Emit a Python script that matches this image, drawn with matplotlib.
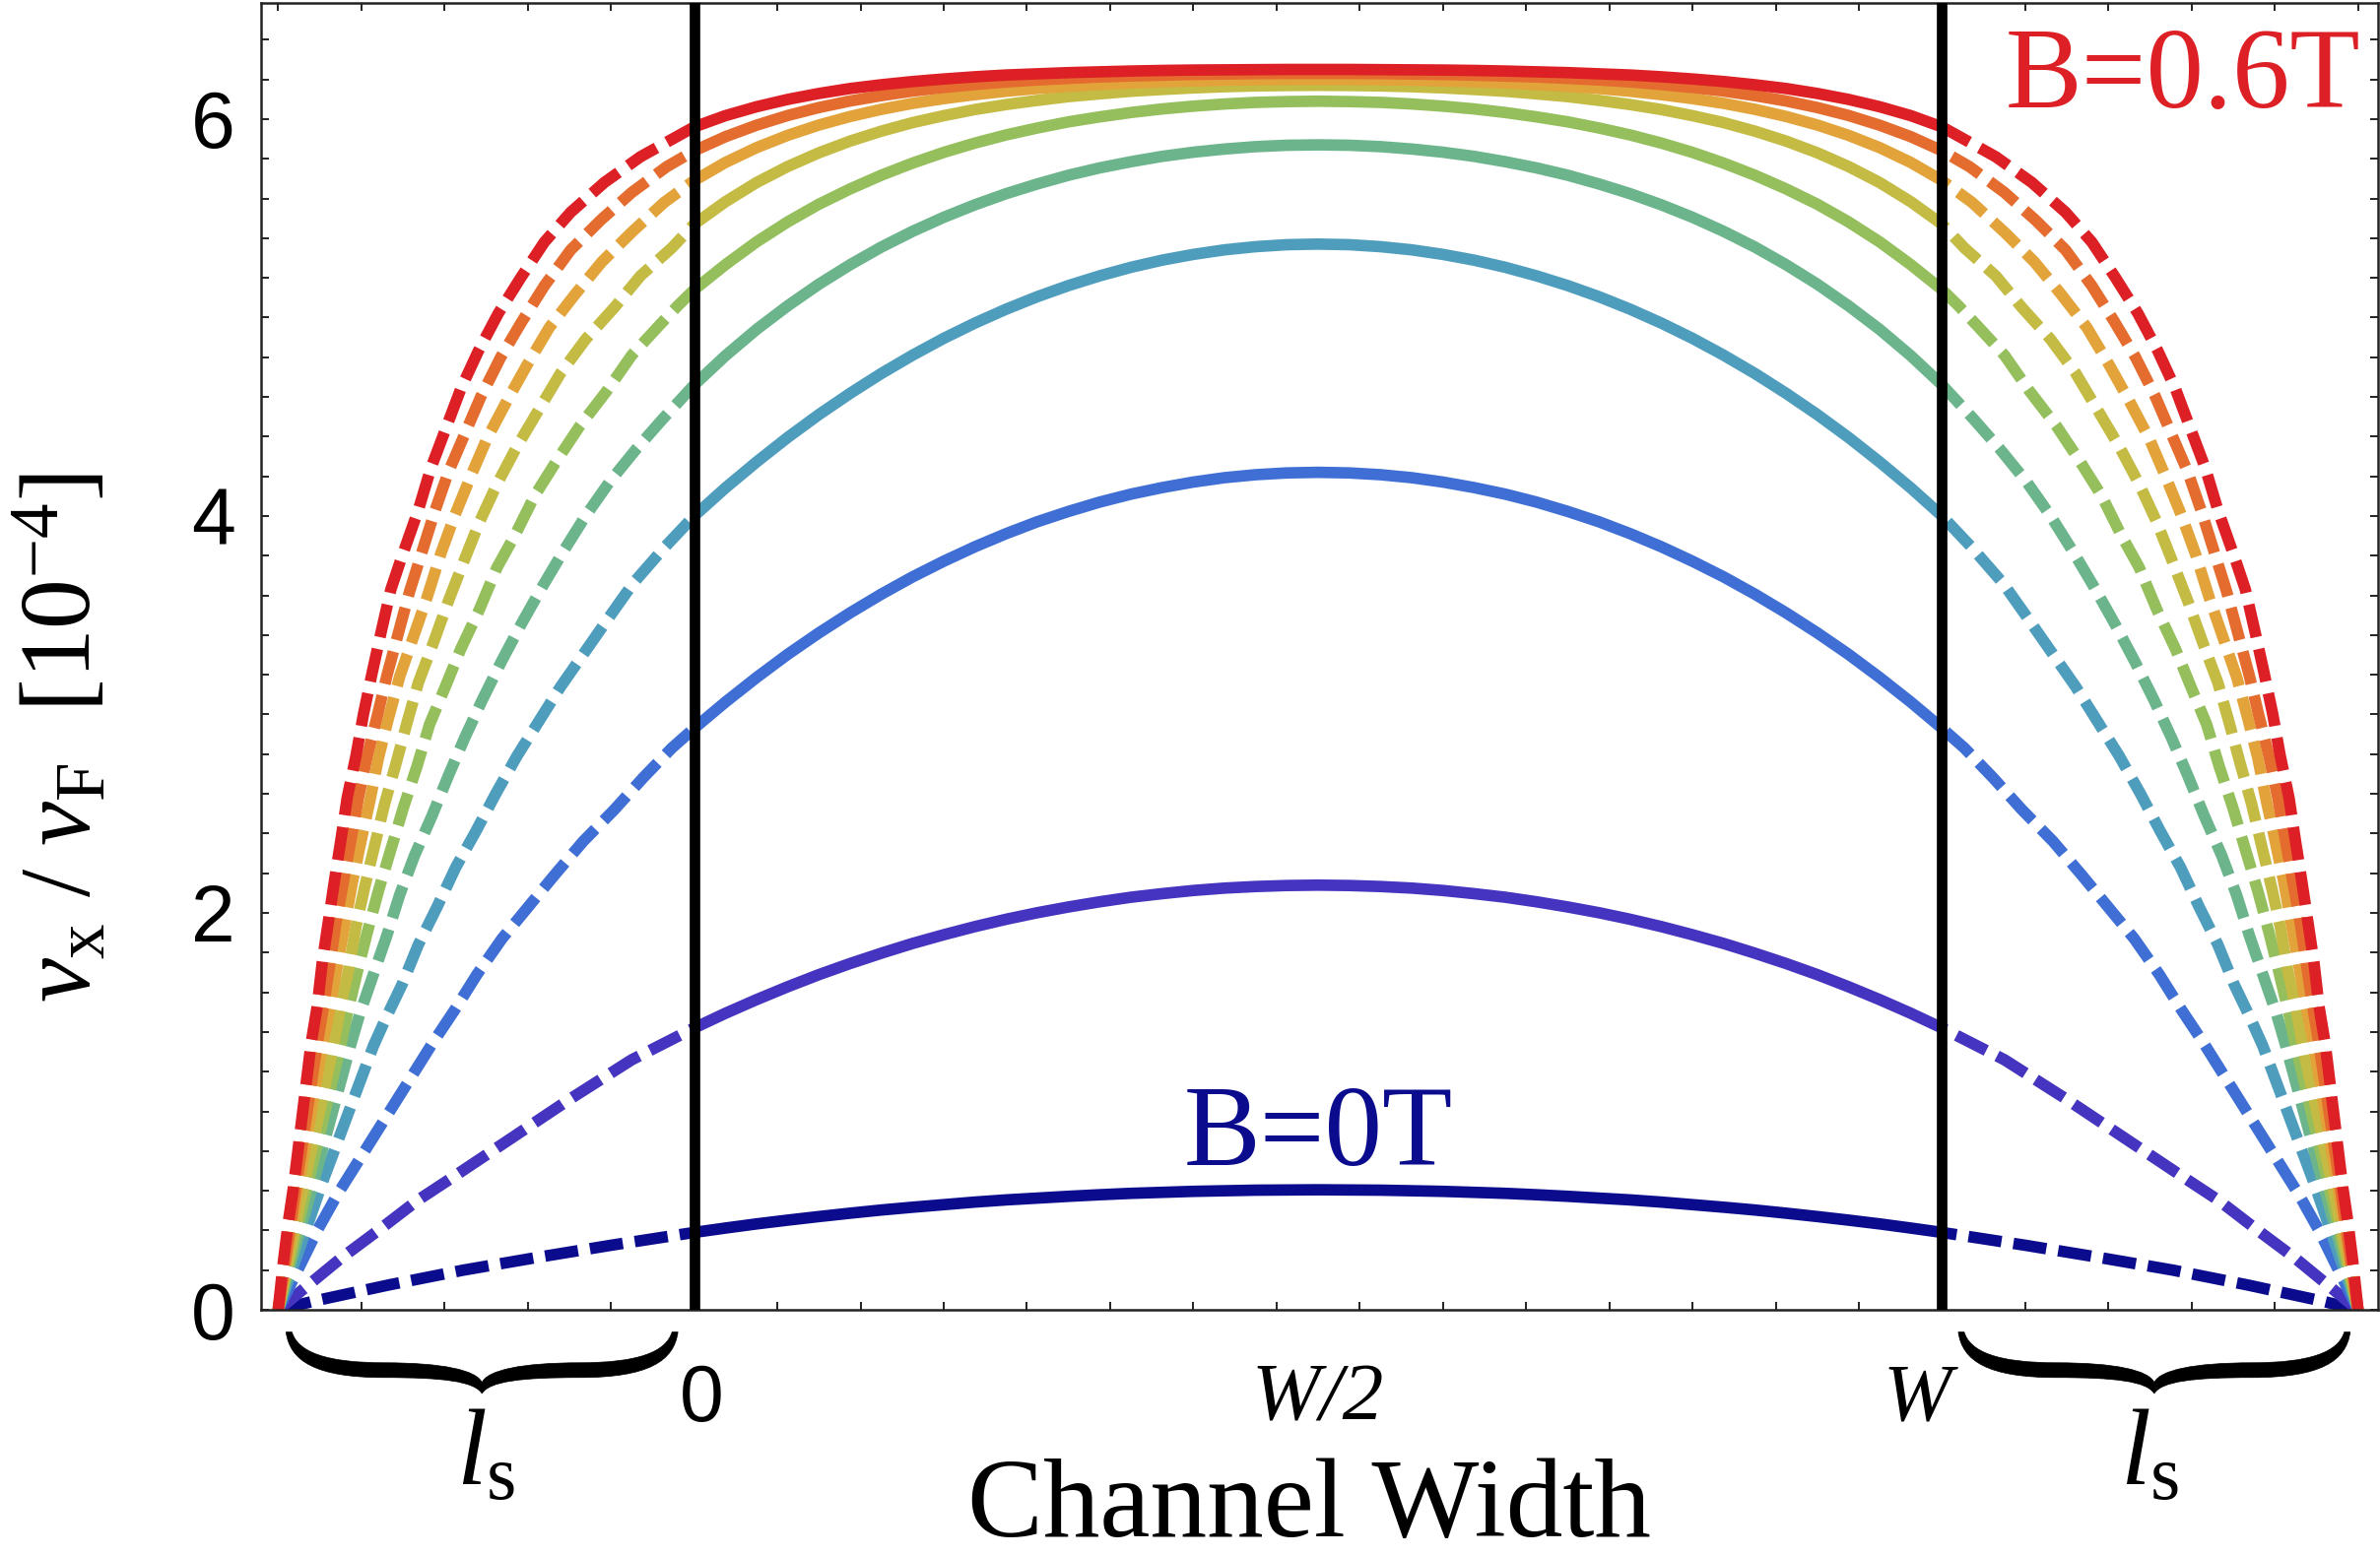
import numpy as np
import matplotlib.pyplot as plt
import matplotlib.transforms as mtransforms
from matplotlib.path import Path
from matplotlib.patches import PathPatch

plt.rcParams["mathtext.fontset"] = "custom"
plt.rcParams["mathtext.rm"] = "Liberation Serif"
plt.rcParams["mathtext.it"] = "Liberation Serif:italic"

# x in units of the channel width W; slip length l_s = W/3
# solid part: left half of the channel (right half is the mirror image)
x_mid = [0.0, 0.025, 0.05, 0.075, 0.10, 0.125, 0.15, 0.175, 0.20, 0.225, 0.25,
         0.275, 0.30, 0.325, 0.35, 0.375, 0.40, 0.425, 0.45, 0.475, 0.50]

# B = 0 T
nav_dash_x = [-0.3333, -0.304, -0.245, -0.185, -0.125, -0.067, 0.0]
nav_dash_y = [0.0, 0.045, 0.125, 0.20, 0.265, 0.325, 0.39]
nav_mid = [0.39, 0.412, 0.433, 0.452, 0.470, 0.487, 0.503, 0.517, 0.530, 0.543, 0.554,
           0.563, 0.572, 0.580, 0.587, 0.592, 0.597, 0.600, 0.603, 0.604, 0.605]

ind_dash_x = [-0.3333, -0.312, -0.283, -0.251, -0.222, -0.193, -0.150, -0.100, -0.050, 0.0]
ind_dash_y = [0.0, 0.11, 0.26, 0.41, 0.55, 0.67, 0.85, 1.06, 1.26, 1.42]
ind_mid = [1.42, 1.494, 1.563, 1.628, 1.689, 1.745, 1.797, 1.846, 1.890, 1.931, 1.968,
           2.001, 2.030, 2.056, 2.079, 2.097, 2.113, 2.125, 2.133, 2.138, 2.14]

roy_dash_x = [-0.3333, -0.302, -0.286, -0.250, -0.210, -0.192, -0.174, -0.154, -0.133,
              -0.112, -0.089, -0.064, -0.041, -0.018, 0.0]
roy_dash_y = [0.0, 0.40, 0.58, 0.94, 1.34, 1.51, 1.69, 1.87, 2.03,
              2.19, 2.36, 2.52, 2.68, 2.83, 2.93]
roy_mid = [2.93, 3.062, 3.186, 3.303, 3.411, 3.512, 3.606, 3.693, 3.772, 3.845, 3.911,
           3.971, 4.023, 4.070, 4.110, 4.143, 4.171, 4.193, 4.208, 4.217, 4.22]

stl_dash_x = [-0.3333, -0.298, -0.257, -0.247, -0.234, -0.221, -0.206, -0.191, -0.175,
              -0.159, -0.142, -0.125, -0.107, -0.087, -0.067, -0.049, -0.024, 0.0]
stl_dash_y = [0.0, 0.64, 1.33, 1.47, 1.64, 1.84, 2.03, 2.23, 2.41,
              2.60, 2.79, 2.96, 3.14, 3.32, 3.50, 3.66, 3.84, 4.00]
stl_mid = [4.00, 4.141, 4.272, 4.396, 4.511, 4.618, 4.718, 4.810, 4.895, 4.972, 5.042,
           5.105, 5.161, 5.210, 5.253, 5.289, 5.318, 5.341, 5.357, 5.367, 5.37]

teal_dash_x = [-0.3333, -0.306, -0.275, -0.268, -0.257, -0.246, -0.236, -0.224, -0.210,
               -0.197, -0.184, -0.170, -0.155, -0.139, -0.122, -0.105, -0.087, -0.068,
               -0.046, -0.025, 0.0]
teal_dash_y = [0.0, 0.62, 1.34, 1.49, 1.69, 1.89, 2.09, 2.29, 2.49,
               2.69, 2.88, 3.07, 3.26, 3.45, 3.64, 3.82, 4.00, 4.17,
               4.34, 4.49, 4.66]
teal_mid = [4.66, 4.807, 4.940, 5.059, 5.168, 5.266, 5.355, 5.434, 5.505, 5.568, 5.624,
            5.673, 5.717, 5.754, 5.785, 5.812, 5.833, 5.849, 5.861, 5.868, 5.87]

grn_dash_x = [-0.3333, -0.310, -0.283, -0.278, -0.270, -0.262, -0.253, -0.243, -0.233,
              -0.222, -0.212, -0.200, -0.187, -0.172, -0.158, -0.143, -0.128, -0.110,
              -0.092, -0.070, -0.050, -0.028, -0.013, 0.0]
grn_dash_y = [0.0, 0.62, 1.34, 1.49, 1.70, 1.90, 2.11, 2.32, 2.53,
              2.74, 2.95, 3.13, 3.33, 3.53, 3.74, 3.91, 4.10, 4.28,
              4.45, 4.63, 4.81, 4.96, 5.06, 5.14]
grn_mid = [5.14, 5.266, 5.381, 5.482, 5.571, 5.648, 5.717, 5.778, 5.832, 5.879, 5.920,
           5.955, 5.986, 6.011, 6.033, 6.051, 6.065, 6.076, 6.084, 6.088, 6.09]

olv_dash_x = [-0.3333, -0.313, -0.289, -0.284, -0.277, -0.271, -0.264, -0.256, -0.248,
              -0.239, -0.230, -0.221, -0.209, -0.197, -0.184, -0.172, -0.158, -0.142,
              -0.125, -0.107, -0.087, -0.064, -0.043, -0.018, 0.0]
olv_dash_y = [0.0, 0.62, 1.33, 1.51, 1.71, 1.93, 2.13, 2.34, 2.55,
              2.75, 2.96, 3.16, 3.36, 3.57, 3.78, 3.97, 4.16, 4.35,
              4.53, 4.72, 4.89, 5.05, 5.21, 5.35, 5.47]
olv_mid = [5.47, 5.583, 5.680, 5.761, 5.830, 5.889, 5.939, 5.982, 6.017, 6.048, 6.073,
           6.094, 6.113, 6.127, 6.140, 6.149, 6.157, 6.163, 6.167, 6.169, 6.17]

amb_dash_x = [-0.3333, -0.317, -0.298, -0.292, -0.286, -0.280, -0.274, -0.267, -0.260,
              -0.253, -0.245, -0.236, -0.225, -0.214, -0.203, -0.192, -0.179, -0.166,
              -0.150, -0.134, -0.116, -0.095, -0.074, -0.050, -0.024, 0.0]
amb_dash_y = [0.0, 0.62, 1.33, 1.52, 1.73, 1.94, 2.15, 2.36, 2.56,
              2.78, 2.98, 3.19, 3.39, 3.59, 3.81, 4.00, 4.20, 4.39,
              4.58, 4.76, 4.95, 5.12, 5.28, 5.43, 5.58, 5.69]
amb_mid = [5.69, 5.781, 5.856, 5.918, 5.970, 6.013, 6.049, 6.079, 6.103, 6.123, 6.140,
           6.154, 6.165, 6.174, 6.182, 6.188, 6.192, 6.196, 6.198, 6.20, 6.20]

org_dash_x = [-0.3333, -0.319, -0.302, -0.297, -0.292, -0.287, -0.281, -0.275, -0.269,
              -0.262, -0.254, -0.246, -0.237, -0.228, -0.218, -0.208, -0.197, -0.184,
              -0.171, -0.155, -0.138, -0.120, -0.099, -0.075, -0.050, -0.022, 0.0]
org_dash_y = [0.0, 0.62, 1.34, 1.53, 1.74, 1.95, 2.16, 2.37, 2.58,
              2.79, 2.99, 3.20, 3.41, 3.62, 3.82, 4.02, 4.22, 4.41,
              4.60, 4.80, 4.98, 5.16, 5.34, 5.49, 5.63, 5.76, 5.84]
org_mid = [5.84, 5.911, 5.969, 6.018, 6.058, 6.091, 6.118, 6.141, 6.159, 6.174, 6.187,
           6.197, 6.205, 6.212, 6.217, 6.221, 6.225, 6.227, 6.229, 6.23, 6.23]

# B = 0.6 T
red_dash_x = [-0.3333, -0.329, -0.325, -0.321, -0.307, -0.302, -0.298, -0.293, -0.288,
              -0.283, -0.278, -0.271, -0.265, -0.258, -0.251, -0.243, -0.235, -0.221,
              -0.211, -0.199, -0.187, -0.173, -0.157, -0.139, -0.120, -0.099, -0.072,
              -0.043, 0.0]
red_dash_y = [0.0, 0.25, 0.45, 0.62, 1.34, 1.53, 1.75, 1.96, 2.17,
              2.37, 2.58, 2.79, 3.00, 3.21, 3.41, 3.63, 3.78, 4.03,
              4.24, 4.44, 4.64, 4.83, 5.02, 5.20, 5.38, 5.53, 5.68,
              5.81, 5.96]
red_mid = [5.96, 6.017, 6.062, 6.099, 6.129, 6.154, 6.173, 6.189, 6.202, 6.213, 6.222,
           6.228, 6.234, 6.238, 6.242, 6.245, 6.247, 6.248, 6.249, 6.25, 6.25]

colors = ["#0b0b8e", "#4434bf", "#3f6fd4", "#4f9dbd", "#6cb58c",
          "#95bf5c", "#c4bb45", "#e2a33b", "#e46c2f", "#dd2025"]

curves = [
    (nav_dash_x, nav_dash_y, nav_mid),
    (ind_dash_x, ind_dash_y, ind_mid),
    (roy_dash_x, roy_dash_y, roy_mid),
    (stl_dash_x, stl_dash_y, stl_mid),
    (teal_dash_x, teal_dash_y, teal_mid),
    (grn_dash_x, grn_dash_y, grn_mid),
    (olv_dash_x, olv_dash_y, olv_mid),
    (amb_dash_x, amb_dash_y, amb_mid),
    (org_dash_x, org_dash_y, org_mid),
    (red_dash_x, red_dash_y, red_mid),
]

LW = 8.4
DASH = (0, (2.9, 1.05))
SERIF = "Liberation Serif"
SANS = "Liberation Sans"

fig = plt.figure(figsize=(24.16, 15.8), dpi=100)
ax = fig.add_axes([0.1097, 0.1582, 0.8893, 0.8399])

xm = np.array(x_mid)
for (dx, dy, mid), c in zip(curves, colors):
    dx = np.array(dx)
    dy = np.array(dy)
    mid = np.array(mid)
    # slip region next to each wall: dashed
    ax.plot(dx, dy, color=c, lw=LW, ls=DASH, dash_capstyle="butt")
    ax.plot(1 - dx, dy, color=c, lw=LW, ls=DASH, dash_capstyle="butt")
    # inside the channel: solid
    xs = np.concatenate([xm, 1 - xm[-2::-1]])
    ys = np.concatenate([mid, mid[-2::-1]])
    ax.plot(xs, ys, color=c, lw=LW, solid_capstyle="butt", solid_joinstyle="round")

# channel walls
ax.axvline(0, color="black", lw=7.7, zorder=5)
ax.axvline(1, color="black", lw=7.7, zorder=5)

ax.set_xlim(-0.347, 1.349)
ax.set_ylim(0, 6.585)

ax.set_xticks(np.arange(-5, 21) / 15)
ax.set_xticklabels([])
ytk = np.round(np.arange(0, 6.5, 0.2), 1)
ylab = [str(int(round(v))) if abs(v - round(v)) < 1e-6 and int(round(v)) % 2 == 0 else ""
        for v in ytk]
ax.set_yticks(ytk)
ax.set_yticklabels(ylab, fontsize=58, family=SANS)
ax.tick_params(direction="in", length=6, width=1.4, top=True, right=True, pad=19,
               color="#222222")
for s in ax.spines.values():
    s.set_linewidth(1.8)
    s.set_color("#222222")

bt = mtransforms.blended_transform_factory(ax.transData, ax.transAxes)

# x tick labels
ax.text(0.006, -0.069, "0", transform=bt, ha="center", va="center", fontsize=58, family=SANS)
ax.text(0.5, -0.069, "W/2", transform=bt, ha="center", va="center", fontsize=60,
        family=SERIF, style="italic")
ax.text(0.98, -0.069, "W", transform=bt, ha="center", va="center", fontsize=60,
        family=SERIF, style="italic")

ax.text(0.493, -0.173, "Channel Width", transform=bt, ha="center", va="baseline",
        fontsize=83, family=SERIF)
ax.text(-0.093, 0.438, r"$v_{\rm x}\ /\ v_{\rm F}\ \ [10^{-4}]$", transform=ax.transAxes,
        rotation=90, ha="center", va="center", fontsize=73)

ax.text(1.051, 6.06, "B=0.6T", color=colors[-1], fontsize=84, family=SERIF,
        ha="left", va="baseline")
ax.text(0.5, 0.731, "B=0T", color=colors[0], fontsize=84, family=SERIF,
        ha="center", va="baseline")


def brace(x0, x1, y_top, H):
    h = (x1 - x0) / 2

    def p(u, v):
        return (x0 + u * h, y_top - v * H)

    pts = [p(0, 0),
           p(0.02, 0.47), p(0.15, 0.74), p(0.5, 0.74),
           p(0.8, 0.74), p(0.96, 0.8), p(1.0, 1.0),
           p(1.04, 0.8), p(1.2, 0.74), p(1.5, 0.74),
           p(1.85, 0.74), p(1.98, 0.47), p(2.0, 0.0),
           p(1.97, 0.0),
           p(1.94, 0.32), p(1.8, 0.50), p(1.5, 0.50),
           p(1.2, 0.50), p(1.03, 0.62), p(1.0, 0.82),
           p(0.97, 0.62), p(0.8, 0.50), p(0.5, 0.50),
           p(0.2, 0.50), p(0.06, 0.32), p(0.03, 0.0),
           p(0, 0)]
    codes = ([Path.MOVETO] + [Path.CURVE4] * 12 + [Path.LINETO]
             + [Path.CURVE4] * 12 + [Path.CLOSEPOLY])
    patch = PathPatch(Path(pts, codes), facecolor="black", edgecolor="black", lw=0.5,
                      transform=bt, clip_on=False)
    ax.add_patch(patch)


brace(-0.327, -0.013, -0.017, 0.047)
brace(1.013, 1.327, -0.017, 0.047)
ax.text(-1 / 6, -0.134, r"$l_{\rm s}$", transform=bt, ha="center", va="baseline", fontsize=80)
ax.text(7 / 6, -0.134, r"$l_{\rm s}$", transform=bt, ha="center", va="baseline", fontsize=80)

fig.savefig("out.png", dpi=100)
